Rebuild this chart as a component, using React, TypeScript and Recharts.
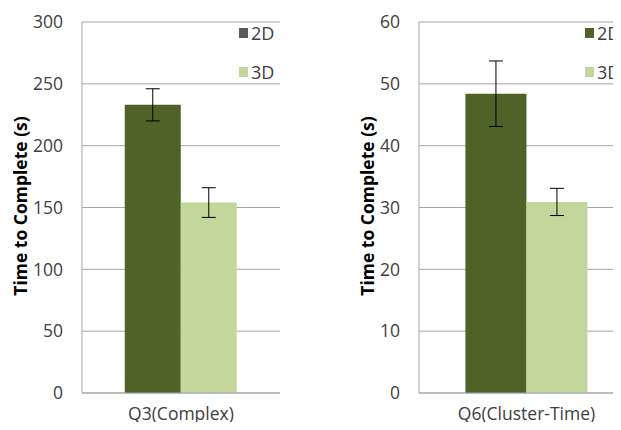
import { BarChart, Bar, XAxis, YAxis, CartesianGrid, ErrorBar } from "recharts";

const seriesNames = ["2D", "3D"];

const leftCategories = ["Q3(Complex)"];
const left2D = [233];
const left3D = [154];
const left2DErr = [13];
const left3DErr = [12];
const leftTicks = [0, 50, 100, 150, 200, 250, 300];

const rightCategories = ["Q6(Cluster-Time)"];
const right2D = [48.4];
const right3D = [30.9];
const right2DErr = [5.3];
const right3DErr = [2.2];
const rightTicks = [0, 10, 20, 30, 40, 50, 60];

const DARK = "#4f6228";
const LIGHT = "#c3d69b";
const GRID = "#a6a6a6";
const TEXT = "#404040";
const FONT = "'Open Sans', sans-serif";

const leftData = leftCategories.map((name, i) => ({
  name,
  d2: left2D[i],
  d3: left3D[i],
  e2: left2DErr[i],
  e3: left3DErr[i],
}));

const rightData = rightCategories.map((name, i) => ({
  name,
  d2: right2D[i],
  d3: right3D[i],
  e2: right2DErr[i],
  e3: right3DErr[i],
}));

function LegendBox({ colors, left }: { colors: string[]; left: number }) {
  return (
    <div style={{ position: "absolute", left, top: 21, fontFamily: FONT, fontSize: 18, color: TEXT }}>
      {seriesNames.map((n, i) => (
        <div key={n} style={{ display: "flex", alignItems: "center", height: 24, marginBottom: i === 0 ? 15 : 0 }}>
          <span style={{ width: 9, height: 10, background: colors[i], marginRight: 3 }} />
          <span>{n}</span>
        </div>
      ))}
    </div>
  );
}

function YLabel({ x, y }: { x: number; y: number }) {
  return (
    <text
      x={x}
      y={y}
      transform={`rotate(-90 ${x} ${y})`}
      textAnchor="middle"
      dominantBaseline="central"
      fontFamily={FONT}
      fontWeight="bold"
      fontSize={17.5}
      fill="#000"
    >
      Time to Complete (s)
    </text>
  );
}

type PanelProps = {
  data: any[];
  ticks: number[];
  max: number;
  width: number;
  yWidth: number;
  right: number;
  labelX: number;
};

function Panel({ data, ticks, max, width, yWidth, right, labelX }: PanelProps) {
  return (
    <BarChart
      width={width}
      height={430}
      data={data}
      margin={{ top: 22, right, bottom: 0, left: 0 }}
      barCategoryGap="21.6%"
      barGap={0}
    >
      <CartesianGrid vertical={false} stroke={GRID} strokeWidth={1} />
      <XAxis
        dataKey="name"
        height={37}
        axisLine={{ stroke: GRID }}
        tickLine={false}
        tickMargin={9}
        tick={{ fontFamily: FONT, fontSize: 17.5, fill: TEXT }}
      />
      <YAxis
        width={yWidth}
        domain={[0, max]}
        ticks={ticks}
        interval={0}
        axisLine={{ stroke: GRID }}
        tickLine={false}
        tickMargin={13}
        tick={{ fontFamily: FONT, fontSize: 17.5, fill: TEXT }}
        label={{ content: () => <YLabel x={labelX} y={206} /> }}
      />
      <Bar dataKey="d2" name="2D" fill={DARK} isAnimationActive={false}>
        <ErrorBar dataKey="e2" width={7} stroke="#000" strokeWidth={1} />
      </Bar>
      <Bar dataKey="d3" name="3D" fill={LIGHT} isAnimationActive={false}>
        <ErrorBar dataKey="e3" width={7} stroke="#000" strokeWidth={1} />
      </Bar>
    </BarChart>
  );
}

export default function App() {
  return (
    <div style={{ position: "relative", width: 621, height: 430, margin: -8, background: "#fff", overflow: "hidden" }}>
      <div style={{ position: "absolute", left: 0, top: 0 }}>
        <Panel data={leftData} ticks={leftTicks} max={300} width={310} yWidth={82} right={30} labelX={20} />
        <LegendBox colors={["#595959", LIGHT]} left={239} />
      </div>
      <div style={{ position: "absolute", left: 310, top: 0, width: 311, height: 430, overflow: "hidden" }}>
        <Panel data={rightData} ticks={rightTicks} max={60} width={324} yWidth={109} right={0} labelX={57} />
        <LegendBox colors={[DARK, LIGHT]} left={275} />
      </div>
    </div>
  );
}
